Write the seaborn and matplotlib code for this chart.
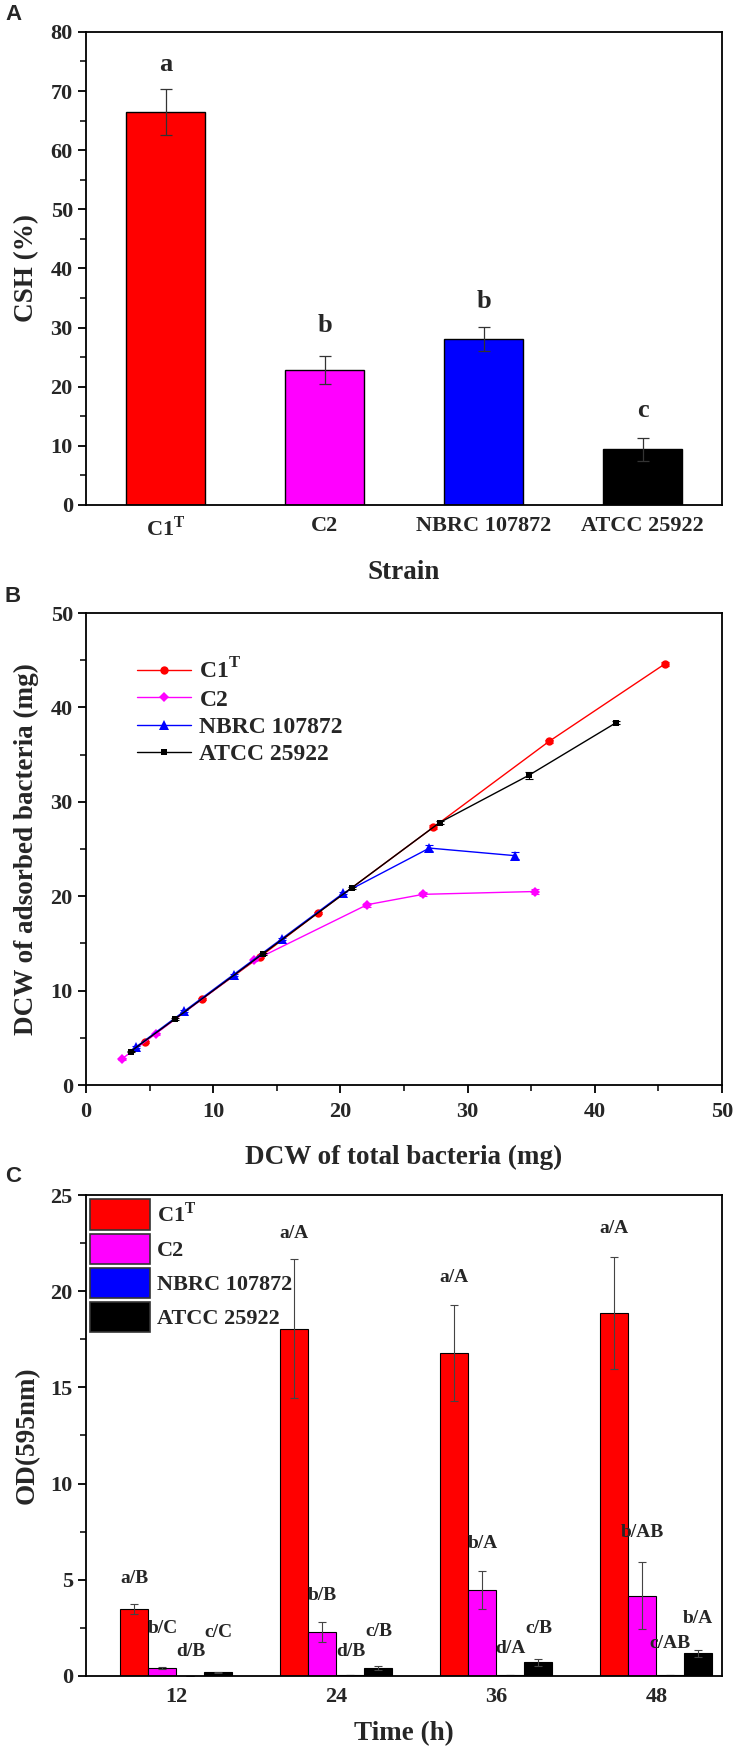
import matplotlib
matplotlib.use('Agg')
import matplotlib.pyplot as plt
from matplotlib.ticker import MultipleLocator
import seaborn as sns
import pandas as pd

# ---- panel A: cell surface hydrophobicity
strains = ['C1$^\\mathrm{T}$', 'C2', 'NBRC 107872', 'ATCC 25922']
csh = [66.4, 22.8, 28.1, 9.4]
csh_err = [3.9, 2.4, 2.0, 2.0]
csh_letters = ['a', 'b', 'b', 'c']
csh_letter_y = [74.5, 30.3, 34.4, 15.9]
colors = ['#FF0000', '#FF00FF', '#0000FF', '#000000']

# ---- panel B: adsorbed vs total DCW
c1_x = [4.6, 9.1, 13.7, 18.2, 27.3, 36.4, 45.5]
c1_y = [4.6, 9.1, 13.6, 18.2, 27.3, 36.4, 44.6]
c1_e = [0.1, 0.1, 0.1, 0.1, 0.2, 0.2, 0.2]
c2_x = [2.8, 5.5, 13.2, 22.1, 26.5, 35.3]
c2_y = [2.75, 5.45, 13.2, 19.1, 20.2, 20.5]
c2_e = [0.1, 0.1, 0.1, 0.2, 0.2, 0.3]
nbrc_x = [3.9, 7.7, 11.6, 15.4, 20.2, 27.0, 33.7]
nbrc_y = [4.0, 7.8, 11.7, 15.5, 20.3, 25.1, 24.3]
nbrc_e = [0.1, 0.1, 0.1, 0.1, 0.1, 0.3, 0.4]
atcc_x = [3.5, 7.0, 13.9, 20.9, 27.8, 34.8, 41.7]
atcc_y = [3.55, 7.0, 13.9, 20.9, 27.8, 32.8, 38.4]
atcc_e = [0.1, 0.1, 0.1, 0.1, 0.2, 0.4, 0.2]

# ---- panel C: biofilm OD595
times = ['12', '24', '36', '48']
od_c1 = [3.48, 18.05, 16.77, 18.88]
od_c1_err = [0.25, 3.6, 2.5, 2.9]
od_c2 = [0.43, 2.29, 4.48, 4.17]
od_c2_err = [0.05, 0.5, 1.0, 1.75]
od_nbrc = [0.02, 0.03, 0.05, 0.05]
od_nbrc_err = [0.0, 0.0, 0.0, 0.0]
od_atcc = [0.18, 0.43, 0.70, 1.17]
od_atcc_err = [0.05, 0.1, 0.2, 0.18]
od_letters = [['a/B', 'a/A', 'a/A', 'a/A'],
              ['b/C', 'b/B', 'b/A', 'b/AB'],
              ['d/B', 'd/B', 'd/A', 'c/AB'],
              ['c/C', 'c/B', 'c/B', 'b/A']]
od_letter_y = [[5.05, 23.0, 20.7, 23.25],
               [2.47, 4.19, 6.88, 7.47],
               [1.28, 1.28, 1.41, 1.68],
               [2.24, 2.29, 2.47, 2.98]]

sns.set_style('ticks')
plt.rcParams['font.family'] = ['Liberation Serif', 'DejaVu Serif']
plt.rcParams['font.weight'] = 'bold'
plt.rcParams['mathtext.fontset'] = 'custom'
plt.rcParams['mathtext.rm'] = 'Liberation Serif:bold'
plt.rcParams['mathtext.bf'] = 'Liberation Serif:bold'
plt.rcParams['axes.linewidth'] = 1.3

TICK = 16
LAB = 19.5

fig = plt.figure(figsize=(7.39, 17.54), dpi=100)
axA = fig.add_axes([0.1164, 0.7121, 0.8606, 0.2697])
axB = fig.add_axes([0.1164, 0.3814, 0.8606, 0.2691])
axC = fig.add_axes([0.1164, 0.0445, 0.8606, 0.2742])


def style_axis(ax):
    for s in ax.spines.values():
        s.set_visible(True)
        s.set_color('black')
    ax.tick_params(axis='both', which='major', direction='out', length=6, width=1.3,
                   labelsize=TICK, color='black')
    ax.tick_params(axis='both', which='minor', direction='out', length=4, width=1.3)
    for t in ax.get_xticklabels() + ax.get_yticklabels():
        t.set_fontweight('bold')


# ---------------- A
dfA = pd.DataFrame({'strain': strains, 'csh': csh})
sns.barplot(data=dfA, x='strain', y='csh', hue='strain', palette=colors, legend=False,
            width=0.5, edgecolor='black', linewidth=1, saturation=1, ax=axA)
xs = [p.get_x() + p.get_width() / 2 for p in axA.patches]
axA.errorbar(xs, csh, yerr=csh_err, fmt='none', ecolor='#333333', elinewidth=0.9,
             capsize=4, capthick=0.9)
for x, yv, t in zip(xs, csh_letter_y, csh_letters):
    axA.text(x, yv, t, ha='center', va='center', fontsize=19, fontweight='bold')
axA.set_xlim(-0.5, 3.5)
axA.set_ylim(0, 80)
axA.yaxis.set_major_locator(MultipleLocator(10))
axA.yaxis.set_minor_locator(MultipleLocator(5))
style_axis(axA)
axA.tick_params(axis='x', which='both', length=0, pad=8)
axA.set_xlabel('Strain', fontsize=LAB, fontweight='bold', labelpad=14)
axA.set_ylabel('CSH (%)', fontsize=LAB, fontweight='bold', labelpad=8)

# ---------------- B
series = [
    (strains[0], c1_x, c1_y, c1_e, 'o', 6),
    (strains[1], c2_x, c2_y, c2_e, 'D', 5),
    (strains[2], nbrc_x, nbrc_y, nbrc_e, '^', 6.5),
    (strains[3], atcc_x, atcc_y, atcc_e, 's', 5),
]
for (name, sx, sy, se, mk, ms), col in zip(series, colors):
    d = pd.DataFrame({'x': sx, 'y': sy})
    sns.lineplot(data=d, x='x', y='y', sort=False, color=col, marker=mk, markersize=ms,
                 markeredgewidth=0, linewidth=1.0, label=name, ax=axB)
    axB.errorbar(sx, sy, yerr=se, fmt='none', ecolor=col, elinewidth=0.8, capsize=3,
                 capthick=0.8)
axB.set_xlim(0, 50)
axB.set_ylim(0, 50)
axB.xaxis.set_major_locator(MultipleLocator(10))
axB.xaxis.set_minor_locator(MultipleLocator(5))
axB.yaxis.set_major_locator(MultipleLocator(10))
axB.yaxis.set_minor_locator(MultipleLocator(5))
style_axis(axB)
axB.tick_params(axis='x', which='major', pad=6)
axB.set_xlabel('DCW of total bacteria (mg)', fontsize=LAB, fontweight='bold', labelpad=17)
axB.set_ylabel('DCW of adsorbed bacteria (mg)', fontsize=LAB, fontweight='bold', labelpad=8)
axB.legend(loc='upper left', bbox_to_anchor=(0.08, 0.905), frameon=False,
           prop={'family': 'Liberation Serif', 'weight': 'bold', 'size': 17},
           handlelength=2.3, labelspacing=0.25, borderpad=0, borderaxespad=0,
           handletextpad=0.35)

# ---------------- C
dfC = pd.DataFrame({
    'time': times * 4,
    'od': od_c1 + od_c2 + od_nbrc + od_atcc,
    'strain': [s for s in strains for _ in times],
})
sns.barplot(data=dfC, x='time', y='od', hue='strain', palette=colors, width=0.7,
            edgecolor='black', linewidth=0.8, saturation=1, ax=axC, errorbar=None)
errs = [od_c1_err, od_c2_err, od_nbrc_err, od_atcc_err]
vals = [od_c1, od_c2, od_nbrc, od_atcc]
bar_conts = list(axC.containers)
for k, cont in enumerate(bar_conts):
    cx = [b.get_x() + b.get_width() / 2 for b in cont]
    axC.errorbar(cx, vals[k], yerr=errs[k], fmt='none', ecolor='#444444',
                 elinewidth=0.8, capsize=3, capthick=0.8)
    for x, yv, t in zip(cx, od_letter_y[k], od_letters[k]):
        axC.text(x, yv, t, ha='center', va='center', fontsize=14, fontweight='bold')
axC.set_xlim(-0.565, 3.41)
axC.set_ylim(0, 25)
axC.yaxis.set_major_locator(MultipleLocator(5))
axC.yaxis.set_minor_locator(MultipleLocator(2.5))
style_axis(axC)
axC.tick_params(axis='x', which='both', length=0, pad=8)
axC.set_xlabel('Time (h)', fontsize=LAB, fontweight='bold', labelpad=10)
axC.set_ylabel('OD(595nm)', fontsize=LAB, fontweight='bold', labelpad=8)
leg = axC.legend(loc='upper left', frameon=False,
                 prop={'family': 'Liberation Serif', 'weight': 'bold', 'size': TICK},
                 handlelength=2.7, handleheight=1.75, labelspacing=0.15, borderpad=0.1,
                 borderaxespad=0.1, handletextpad=0.3)
for h in leg.legend_handles:
    h.set_edgecolor('#333333')
    h.set_linewidth(1.2)

for lab, yy in [('A', 15), ('B', 596), ('C', 1177)]:
    fig.text(13 / 739, 1 - yy / 1754, lab, ha='center', va='center', fontsize=16,
             family='Liberation Sans', fontweight='bold')

fig.savefig('out.png', dpi=100)
